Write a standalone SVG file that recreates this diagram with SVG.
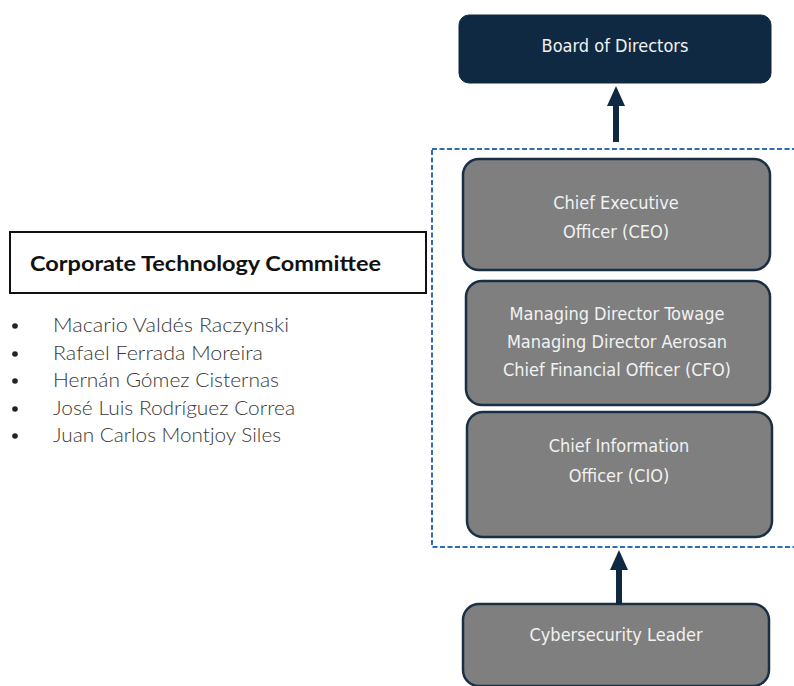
<svg xmlns="http://www.w3.org/2000/svg" width="794" height="686" viewBox="0 0 794 686">
  <style>
    .box { fill: #7f7f7f; stroke: #1b2f44; stroke-width: 2.5; }
    .board { fill: #0f2942; stroke: #0f2942; stroke-width: 1; }
    .lbl { font-family: "Liberation Sans Narrow", "DejaVu Sans Condensed", "Roboto", sans-serif; font-size: 18px; fill: #f2f2f2; text-anchor: middle; }
    .title { font-family: "Lato", "Liberation Sans", sans-serif; font-weight: bold; font-size: 21.5px; fill: #111111; }
    .name { font-family: "Lato", "Liberation Sans", sans-serif; font-weight: 300; font-size: 19.5px; fill: #383838; }
    .arrow { stroke: #0f2942; stroke-width: 6; fill: none; }
    .head { fill: #0f2942; }
  </style>
  <rect width="794" height="686" fill="#ffffff"/>

  <!-- committee frame -->
  <rect id="scope" x="432" y="149" width="370" height="398" fill="none" stroke="#2e6db4" stroke-width="2" stroke-dasharray="5 2.5"/>

  <g id="board">
    <rect class="board" x="459" y="15" width="312" height="68" rx="10"/>
    <text class="lbl" x="615" y="52">Board of Directors</text>
  </g>

  <g id="ceo">
    <rect class="box" x="463" y="159" width="307" height="111" rx="16"/>
    <text class="lbl" x="616" y="209">Chief Executive</text>
    <text class="lbl" x="616" y="238">Officer (CEO)</text>
  </g>

  <g id="directors">
    <rect class="box" x="466" y="281" width="304" height="124" rx="16"/>
    <text class="lbl" x="617" y="320">Managing Director Towage</text>
    <text class="lbl" x="617" y="348">Managing Director Aerosan</text>
    <text class="lbl" x="617" y="376">Chief Financial Officer (CFO)</text>
  </g>

  <g id="cio">
    <rect class="box" x="467" y="412" width="305" height="125" rx="16"/>
    <text class="lbl" x="619" y="452">Chief Information</text>
    <text class="lbl" x="619" y="482">Officer (CIO)</text>
  </g>

  <g id="cyber">
    <rect class="box" x="463" y="604" width="306" height="82" rx="16"/>
    <text class="lbl" x="616" y="641">Cybersecurity Leader</text>
  </g>

  <g id="connectors">
    <line class="arrow" x1="616" y1="142" x2="616" y2="102"/>
    <polygon class="head" points="616,86 607,106 625,106"/>
    <line class="arrow" x1="619" y1="604" x2="619" y2="566"/>
    <polygon class="head" points="619,550 610,570 628,570"/>
  </g>

  <g id="committee">
    <rect x="10" y="232" width="416" height="61" fill="#ffffff" stroke="#111111" stroke-width="2"/>
    <text class="title" x="30" y="271" textLength="351" lengthAdjust="spacingAndGlyphs">Corporate Technology Committee</text>
    <g class="name">
      <circle cx="15" cy="326" r="2.8" fill="#222222"/>
      <text x="53" y="332" textLength="236" lengthAdjust="spacingAndGlyphs">Macario Valdés Raczynski</text>
      <circle cx="15" cy="354" r="2.8" fill="#222222"/>
      <text x="53" y="360" textLength="210" lengthAdjust="spacingAndGlyphs">Rafael Ferrada Moreira</text>
      <circle cx="15" cy="381" r="2.8" fill="#222222"/>
      <text x="53" y="387" textLength="226" lengthAdjust="spacingAndGlyphs">Hernán Gómez Cisternas</text>
      <circle cx="15" cy="409" r="2.8" fill="#222222"/>
      <text x="53" y="415" textLength="242" lengthAdjust="spacingAndGlyphs">José Luis Rodríguez Correa</text>
      <circle cx="15" cy="436" r="2.8" fill="#222222"/>
      <text x="53" y="442" textLength="228" lengthAdjust="spacingAndGlyphs">Juan Carlos Montjoy Siles</text>
    </g>
  </g>
</svg>
